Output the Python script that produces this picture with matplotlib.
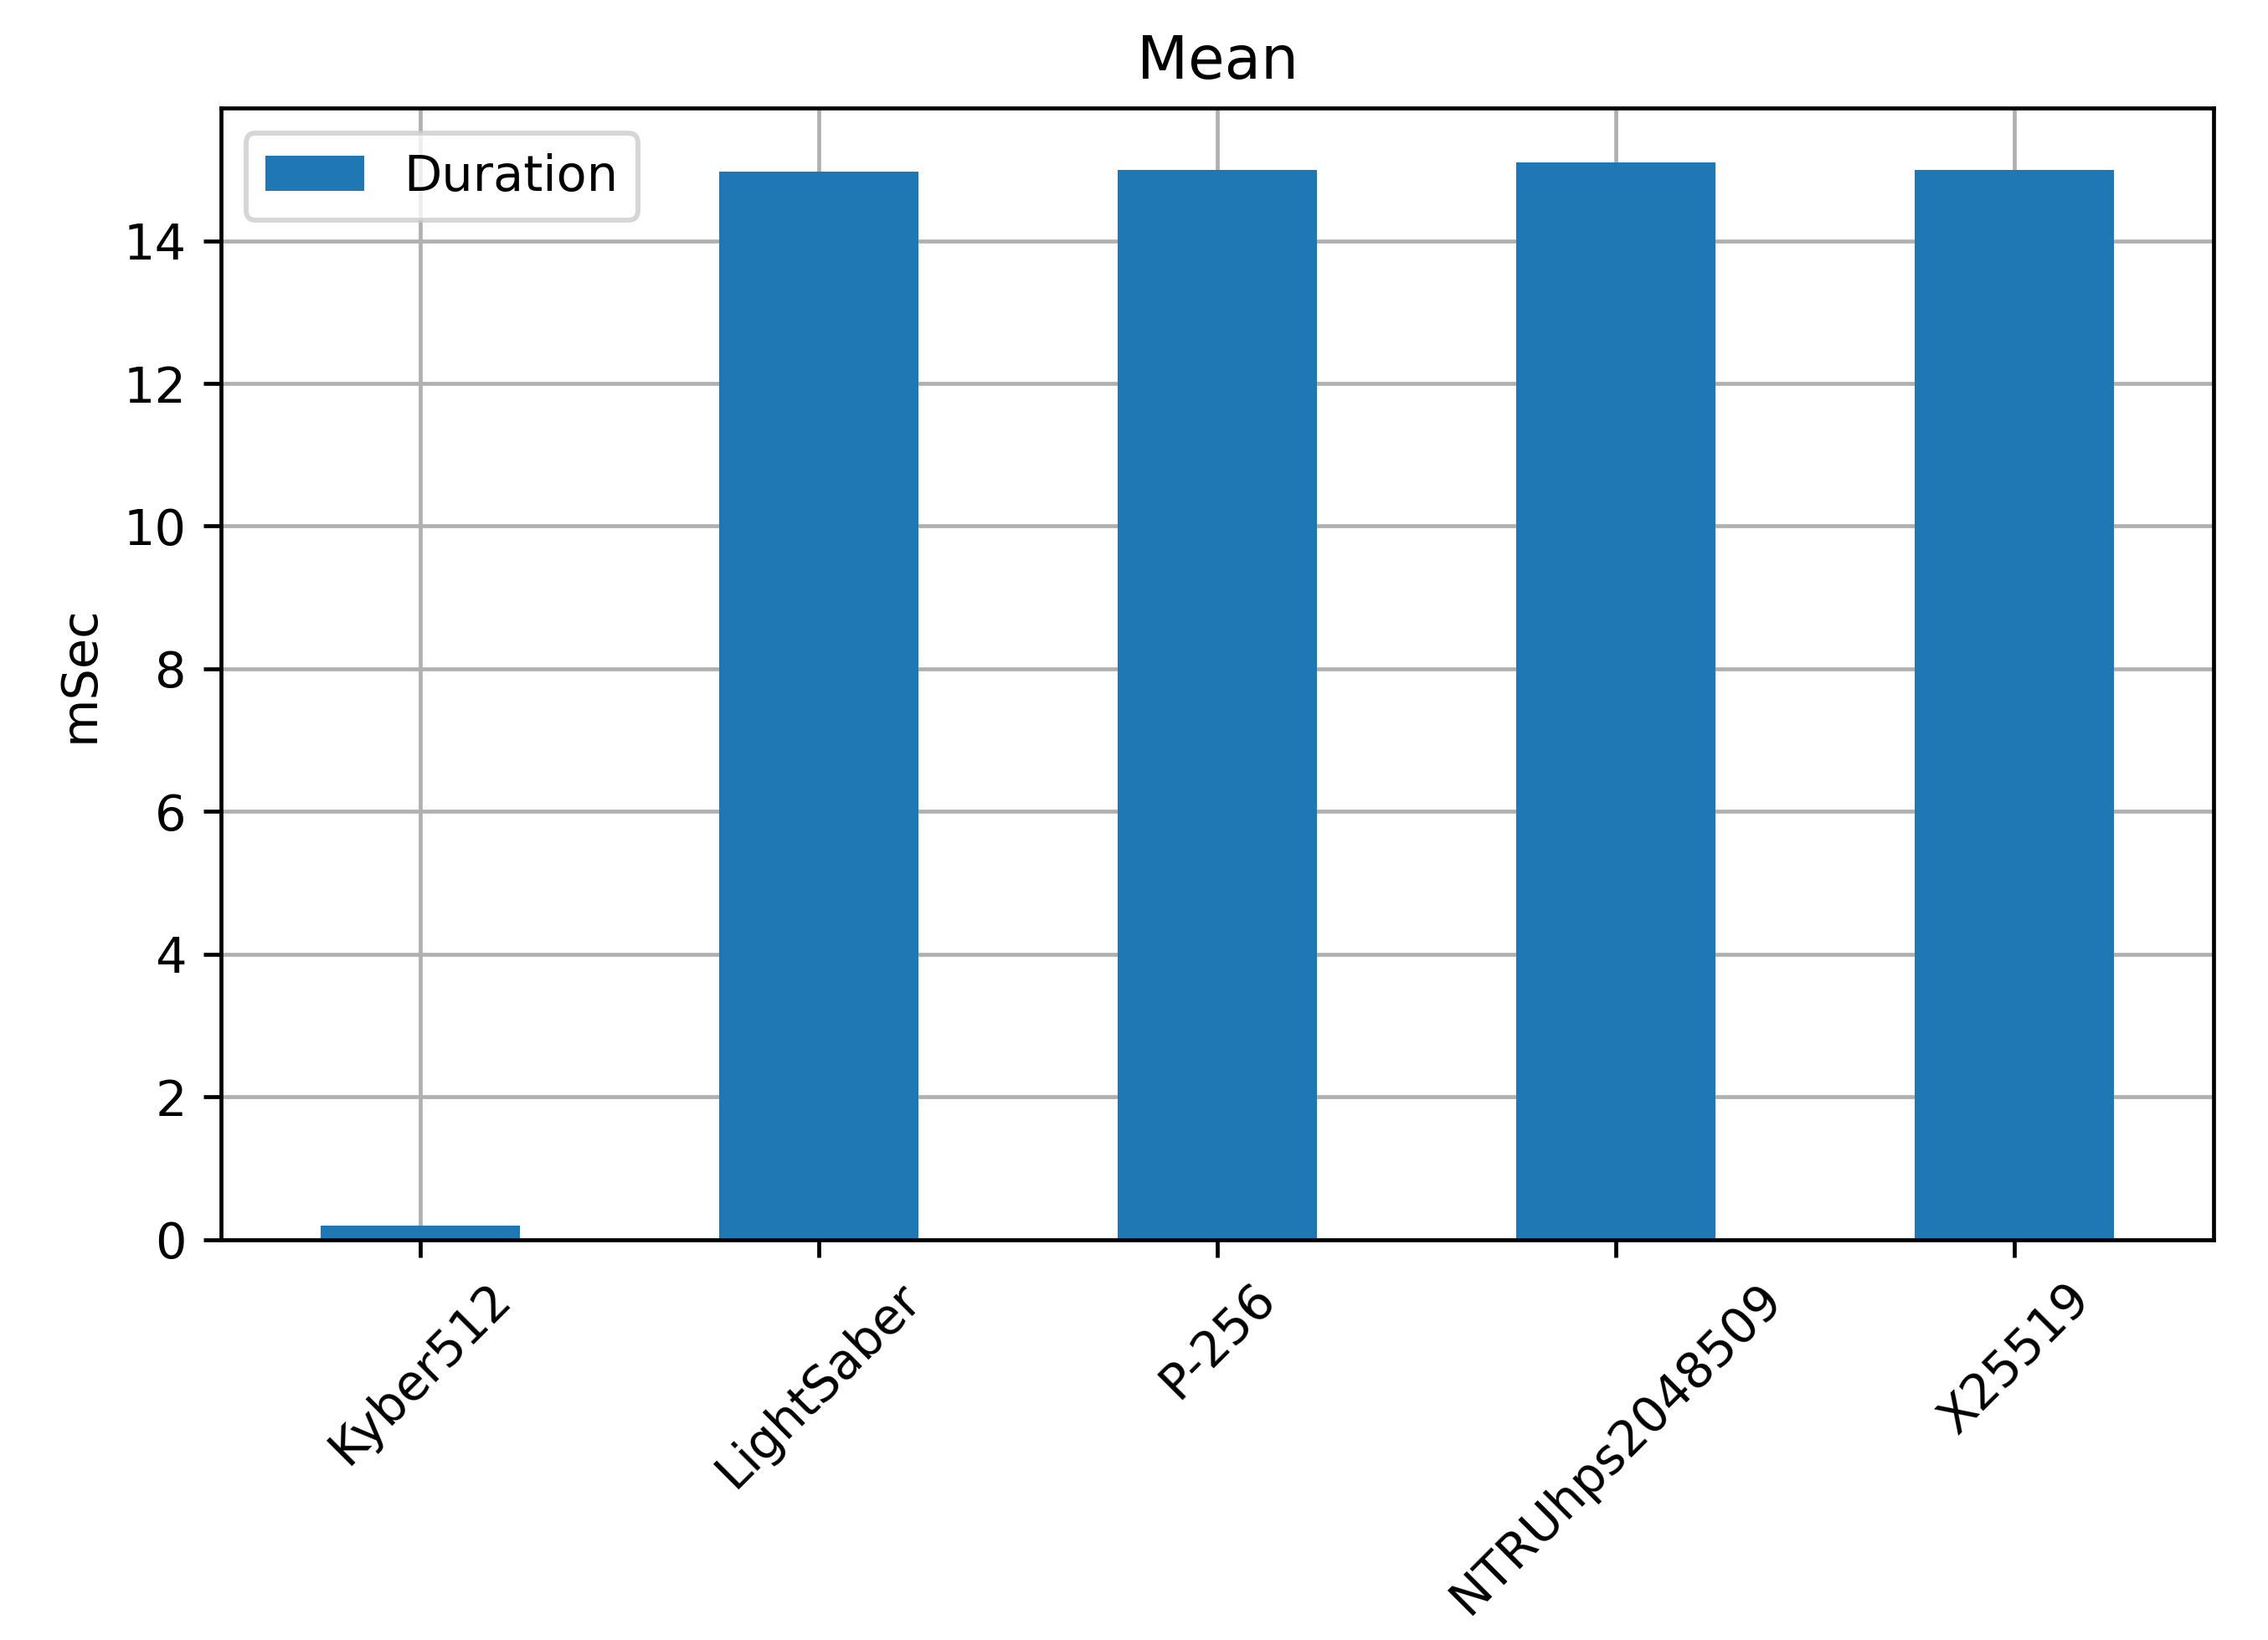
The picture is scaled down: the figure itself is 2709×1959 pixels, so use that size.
import pandas as pd
import matplotlib
matplotlib.use('Agg')
from matplotlib import pyplot as plt

groups = ['Kyber512', 'LightSaber', 'P-256', 'NTRUhps2048509', 'X25519']
duration = [0.20, 14.97, 14.99, 15.10, 14.99]

df = pd.DataFrame({'Duration': duration}, index=groups)

dpi = 425
fig = plt.figure(figsize=(2709 / dpi, 1959 / dpi), dpi=dpi)
ax = fig.add_axes([0.0975, 0.2442, 0.8785, 0.6897])
ax.set_axisbelow(True)
df.plot.bar(ax=ax, rot=45, grid=True, color='#1f77b4')
ax.set_axisbelow(True)
ax.set_title('Mean')
ax.set_ylabel('mSec')
ax.legend(loc='upper left')

fig.savefig('out.png', dpi=dpi)
